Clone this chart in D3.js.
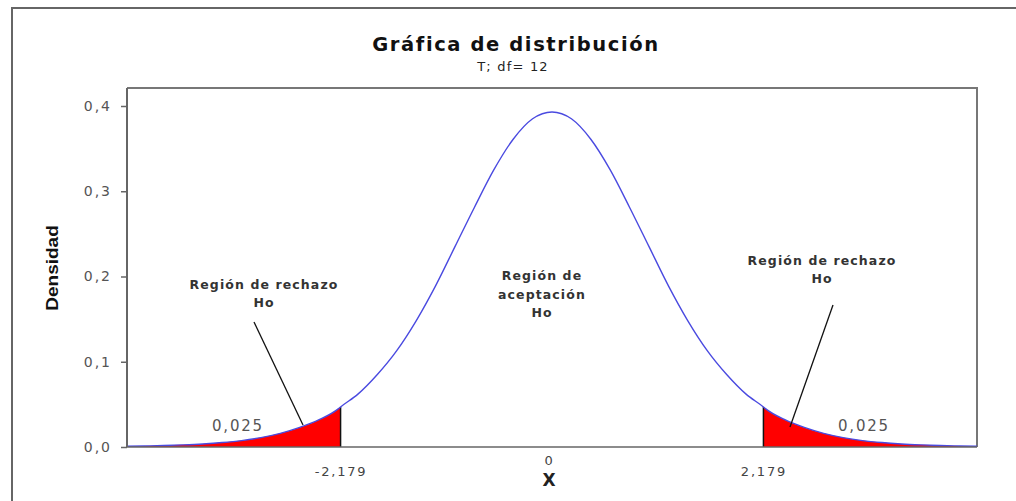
<!DOCTYPE html>
<html>
<head>
<meta charset="utf-8">
<script src="https://cdn.jsdelivr.net/npm/d3@7"></script>
<style>
  body { margin: 0; background: #fff; }
  text { font-family: "DejaVu Sans", Verdana, sans-serif; }
</style>
</head>
<body>
<script>
// t distribution, df = 12
var xs = [-4.38, -4.2, -4.0, -3.8, -3.6, -3.4, -3.2, -3.0, -2.8, -2.6, -2.4, -2.2, -2.179,
  -2.0, -1.8, -1.6, -1.4, -1.2, -1.0, -0.8, -0.6, -0.4, -0.2, 0,
  0.2, 0.4, 0.6, 0.8, 1.0, 1.2, 1.4, 1.6, 1.8, 2.0,
  2.179, 2.2, 2.4, 2.6, 2.8, 3.0, 3.2, 3.4, 3.6, 3.8, 4.0, 4.2, 4.38];
var dens = [0.0009, 0.0012, 0.0017, 0.0025, 0.0036, 0.0052, 0.0075, 0.011, 0.016, 0.023, 0.032, 0.045, 0.047,
  0.062, 0.085, 0.113, 0.148, 0.189, 0.235, 0.281, 0.325, 0.361, 0.385, 0.393,
  0.385, 0.361, 0.325, 0.281, 0.235, 0.189, 0.148, 0.113, 0.085, 0.062,
  0.047, 0.045, 0.032, 0.023, 0.016, 0.011, 0.0075, 0.0052, 0.0036, 0.0025, 0.0017, 0.0012, 0.0009];
var critical = [-2.179, 2.179];
var xTickVals = [-2.179, 0, 2.179];
var xTickLabels = ["-2,179", "0", "2,179"];
var yTickVals = [0, 0.1, 0.2, 0.3, 0.4];
var yTickLabels = ["0,0", "0,1", "0,2", "0,3", "0,4"];
var tailLabels = ["0,025", "0,025"];

var points = xs.map(function(x, i) { return {x: x, y: dens[i]}; });

var width = 1016, height = 501;
var plot = {left: 127, top: 88, right: 977, bottom: 447};

var svg = d3.select("body").append("svg")
  .attr("width", width)
  .attr("height", height);

// outer frame
svg.append("rect")
  .attr("x", 12).attr("y", 8)
  .attr("width", 1020).attr("height", 520)
  .attr("fill", "none")
  .attr("stroke", "#666")
  .attr("stroke-width", 2);

var x = d3.scaleLinear().domain([-4.38, 4.38]).range([plot.left, plot.right]);
var y = d3.scaleLinear().domain([0, 0.4]).range([plot.bottom, 106]);

// titles
svg.append("text")
  .attr("x", 516).attr("y", 51)
  .attr("text-anchor", "middle")
  .style("font-size", "19.5px").style("font-weight", "bold")
  .style("letter-spacing", "1.6px")
  .attr("fill", "#111")
  .text("Gráfica de distribución");
svg.append("text")
  .attr("x", 513).attr("y", 71)
  .attr("text-anchor", "middle")
  .style("font-size", "13px")
  .style("letter-spacing", "1.2px")
  .attr("fill", "#222")
  .text("T; df= 12");

// plot frame (top, right)
svg.append("path")
  .attr("d", "M" + plot.left + "," + plot.top + "H" + plot.right + "V" + plot.bottom)
  .attr("fill", "none")
  .attr("stroke", "#777")
  .attr("stroke-width", 2);

// shaded tails
var area = d3.area()
  .x(function(d) { return x(d.x); })
  .y0(y(0))
  .y1(function(d) { return y(d.y); })
  .curve(d3.curveMonotoneX);

svg.append("path")
  .datum(points.filter(function(d) { return d.x <= critical[0]; }))
  .attr("fill", "#ff0000")
  .attr("d", area);
svg.append("path")
  .datum(points.filter(function(d) { return d.x >= critical[1]; }))
  .attr("fill", "#ff0000")
  .attr("d", area);

// vertical lines at critical values
critical.forEach(function(c) {
  var p = points.find(function(d) { return d.x === c; });
  svg.append("line")
    .attr("x1", x(c)).attr("x2", x(c))
    .attr("y1", y(0)).attr("y2", y(p.y))
    .attr("stroke", "#111")
    .attr("stroke-width", 1.5);
});

// density curve
var line = d3.line()
  .x(function(d) { return x(d.x); })
  .y(function(d) { return y(d.y); })
  .curve(d3.curveMonotoneX);

svg.append("path")
  .datum(points)
  .attr("fill", "none")
  .attr("stroke", "#4a4ae0")
  .attr("stroke-width", 1.4)
  .attr("d", line);

// y axis
var yAxis = svg.append("g")
  .attr("transform", "translate(" + plot.left + ",0)")
  .call(d3.axisLeft(y).tickValues(yTickVals)
    .tickFormat(function(d, i) { return yTickLabels[i]; })
    .tickSize(6).tickPadding(9));
yAxis.select(".domain")
  .attr("d", "M0," + plot.top + "V" + plot.bottom)
  .attr("stroke", "#666").attr("stroke-width", 2);
yAxis.selectAll(".tick line").attr("stroke", "#666").attr("stroke-width", 1.5);
yAxis.selectAll(".tick text")
  .style("font-family", "'DejaVu Sans', Verdana, sans-serif")
  .style("font-size", "14px")
  .style("letter-spacing", "2px")
  .attr("fill", "#555");

// x axis
var xAxis = svg.append("g")
  .attr("transform", "translate(0," + plot.bottom + ")")
  .call(d3.axisBottom(x).tickValues(xTickVals)
    .tickFormat(function(d, i) { return xTickLabels[i]; })
    .tickSize(0).tickPadding(17));
xAxis.select(".domain")
  .attr("d", "M" + plot.left + ",0H" + plot.right)
  .attr("stroke", "#666").attr("stroke-width", 1.5);
xAxis.selectAll(".tick text")
  .style("font-family", "'DejaVu Sans', Verdana, sans-serif")
  .style("font-size", "13px")
  .style("letter-spacing", "1.8px")
  .attr("fill", "#444")
  .attr("dx", function(d) { return d === 0 ? -3 : 0; })
  .attr("dy", function(d) { return d === 0 ? "0.05em" : "0.9em"; });

// axis titles
svg.append("text")
  .attr("x", 549).attr("y", 486)
  .attr("text-anchor", "middle")
  .style("font-size", "17px").style("font-weight", "bold")
  .attr("fill", "#222")
  .text("X");
svg.append("text")
  .attr("transform", "translate(58,268) rotate(-90) scale(1,0.85)")
  .attr("text-anchor", "middle")
  .style("font-family", "'Liberation Sans Narrow', 'Arial Narrow', 'Liberation Sans', sans-serif")
  .style("font-size", "19px").style("font-weight", "bold")
  .attr("fill", "#111")
  .text("Densidad");

// annotations
function label(lines, cx, y0, dy) {
  var t = svg.append("text")
    .attr("text-anchor", "middle")
    .style("font-size", "12.5px").style("font-weight", "bold")
    .style("letter-spacing", "1.1px")
    .attr("fill", "#333");
  lines.forEach(function(s, i) {
    t.append("tspan").attr("x", cx).attr("y", y0 + i * dy).text(s);
  });
}
label(["Región de rechazo", "Ho"], 264, 289, 18);
label(["Región de", "aceptación", "Ho"], 542, 280, 18.5);
label(["Región de rechazo", "Ho"], 822, 265, 18);

svg.append("line")
  .attr("x1", 254).attr("y1", 322).attr("x2", 303).attr("y2", 425)
  .attr("stroke", "#111").attr("stroke-width", 1.3);
svg.append("line")
  .attr("x1", 833).attr("y1", 305).attr("x2", 790).attr("y2", 427)
  .attr("stroke", "#111").attr("stroke-width", 1.3);

svg.append("text")
  .attr("x", 238).attr("y", 431)
  .attr("text-anchor", "middle")
  .style("font-size", "15px").style("letter-spacing", "1.8px")
  .attr("fill", "#555")
  .text(tailLabels[0]);
svg.append("text")
  .attr("x", 864).attr("y", 431)
  .attr("text-anchor", "middle")
  .style("font-size", "15px").style("letter-spacing", "1.8px")
  .attr("fill", "#555")
  .text(tailLabels[1]);
</script>
</body>
</html>
